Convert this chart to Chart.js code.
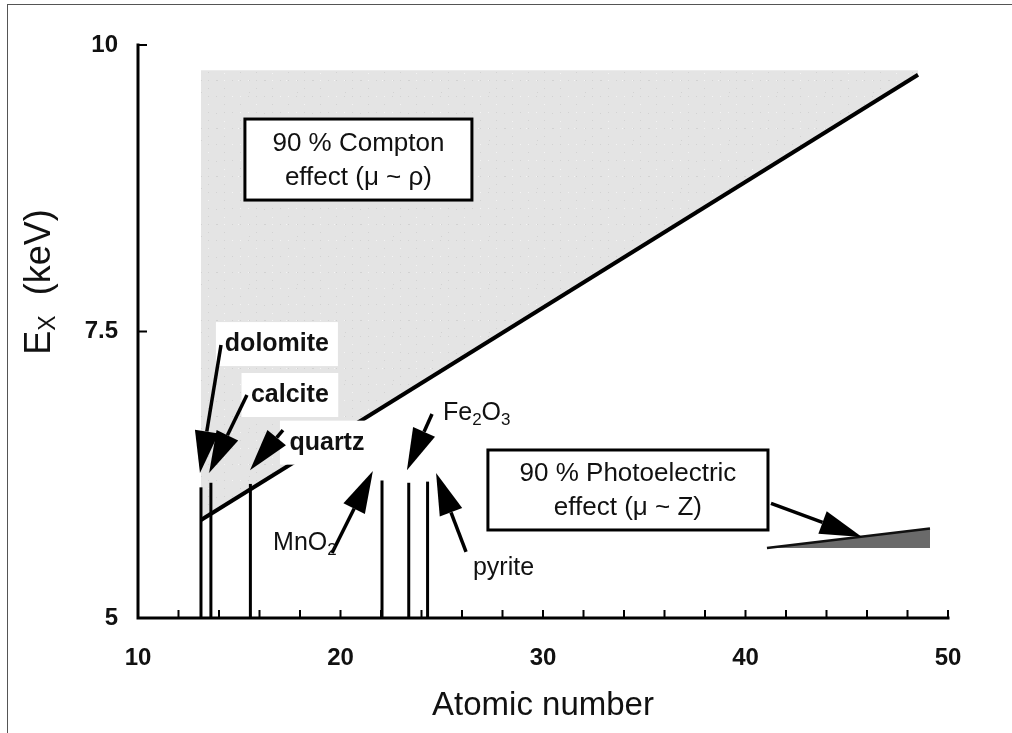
<!DOCTYPE html>
<html>
<head>
<meta charset="utf-8">
<script src="https://cdn.jsdelivr.net/npm/chart.js@4.4.0/dist/chart.umd.min.js"></script>
<style>
  html, body { margin: 0; padding: 0; background: #fff; }
  #wrap { position: relative; width: 1012px; height: 733px; }
  #frame { position: absolute; left: 7px; top: 4px; right: 0; bottom: 0;
           border-top: 1px solid #555; border-left: 1px solid #555; pointer-events: none; }
</style>
</head>
<body>
<div id="wrap">
  <canvas id="chart" width="1012" height="733"></canvas>
  <div id="frame"></div>
</div>
<script>
// axis ranges and ticks
const xMin = 10, xMax = 50;
const yMin = 5, yMax = 10;
const xTickMarks = [12, 14, 16, 18, 20, 22, 24, 26, 28, 30, 32, 34, 36, 38, 40, 42, 44, 46, 48, 50];
const xTickLabels = [10, 20, 30, 40, 50];
const yTickMarks = [7.5, 10];
const yTickLabels = ['5', '7.5', '10'];
const yTickValues = [5, 7.5, 10];

// minerals: effective atomic number and height of the marker line (keV)
const mineralNames = ['dolomite', 'calcite', 'quartz', 'MnO2', 'Fe2O3', 'pyrite'];
const mineralZ = [13.11, 13.6, 15.55, 22.05, 23.37, 24.3];
const mineralTop = [6.14, 6.18, 6.17, 6.2, 6.18, 6.19];

// 90 % Compton boundary line and the shaded region above it
const comptonX = [13.11, 48.52];
const comptonY = [5.855, 9.74];
const comptonTop = 9.78;

// 90 % photoelectric wedge
const photoX = [41.06, 49.11];
const photoY = [5.61, 5.78];
const photoBase = 5.61;

// label positions (data units) and arrows (from -> tip)
const labelAt = [[16.86, 7.39], [17.5, 6.946], [19.33, 6.53], [16.67, 5.654], [25.06, 6.79], [26.54, 5.436]];
const labelBold = [true, true, true, false, false, false];
const labelAlign = ['center', 'center', 'center', 'left', 'left', 'left'];
const arrowFrom = [[14.10, 7.382], [15.38, 6.946], [17.16, 6.64], [19.58, 5.567], [24.52, 6.78], [26.20, 5.576], [41.26, 6.0]];
const arrowTo = [[13.06, 6.265], [13.51, 6.265], [15.53, 6.29], [21.60, 6.283], [23.28, 6.29], [24.72, 6.265], [45.75, 5.707]];

// boxed region captions: [x0, x1, yTop, yBottom]
const boxLines = [['90 % Compton', 'effect (\u03bc ~ \u03c1)'], ['90 % Photoelectric', 'effect (\u03bc ~ Z)']];
const boxRect = [[15.28, 26.49, 9.354, 8.647], [27.28, 41.11, 6.466, 5.768]];

const FONT = "'Liberation Sans', Arial, sans-serif";

// speckled light-grey fill like the printed screen tone
function speckle() {
  const c = document.createElement('canvas');
  c.width = c.height = 48;
  const g = c.getContext('2d');
  g.fillStyle = '#e4e4e4';
  g.fillRect(0, 0, 48, 48);
  let s = 12345;
  for (let i = 0; i < 700; i++) {
    s = (s * 1103515245 + 12345) % 2147483648;
    const x = s % 48;
    s = (s * 1103515245 + 12345) % 2147483648;
    const y = s % 48;
    g.fillStyle = (i % 3 === 0) ? '#f4f4f4' : '#d2d2d2';
    g.fillRect(x, y, 1, 1);
  }
  return g.createPattern(c, 'repeat');
}

// draws text where digits become subscripts (chemical formulas)
function drawFormula(ctx, text, x, y, size, weight, align) {
  const runs = [];
  for (const ch of text) {
    const sub = /[0-9]/.test(ch);
    if (runs.length && runs[runs.length - 1].sub === sub) runs[runs.length - 1].t += ch;
    else runs.push({ t: ch, sub: sub });
  }
  let w = 0;
  runs.forEach(r => {
    ctx.font = `${weight} ${r.sub ? Math.round(size * 0.68) : size}px ${FONT}`;
    r.w = ctx.measureText(r.t).width;
    w += r.w;
  });
  let cx = align === 'center' ? x - w / 2 : x;
  ctx.textAlign = 'left';
  ctx.textBaseline = 'middle';
  runs.forEach(r => {
    ctx.font = `${weight} ${r.sub ? Math.round(size * 0.68) : size}px ${FONT}`;
    ctx.fillText(r.t, cx, r.sub ? y + size * 0.3 : y);
    cx += r.w;
  });
  return w;
}

function drawArrow(ctx, x0, y0, x1, y1) {
  const ang = Math.atan2(y1 - y0, x1 - x0);
  const headLen = 42, headHalf = 12;
  const bx = x1 - headLen * Math.cos(ang), by = y1 - headLen * Math.sin(ang);
  ctx.strokeStyle = '#000';
  ctx.lineWidth = 3.5;
  ctx.beginPath();
  ctx.moveTo(x0, y0);
  ctx.lineTo(bx, by);
  ctx.stroke();
  ctx.fillStyle = '#000';
  ctx.beginPath();
  ctx.moveTo(x1, y1);
  ctx.lineTo(bx + headHalf * Math.sin(ang), by - headHalf * Math.cos(ang));
  ctx.lineTo(bx - headHalf * Math.sin(ang), by + headHalf * Math.cos(ang));
  ctx.closePath();
  ctx.fill();
}

const annotations = {
  id: 'annotations',
  afterDatasetsDraw(chart) {
    const ctx = chart.ctx;
    const px = v => chart.scales.x.getPixelForValue(v);
    const py = v => chart.scales.y.getPixelForValue(v);
    ctx.save();

    // white patches behind the bold labels
    for (let i = 0; i < 3; i++) {
      ctx.font = `bold 24px ${FONT}`;
      const w = ctx.measureText(mineralNames[i]).width;
      const cx = px(labelAt[i][0]), cy = py(labelAt[i][1]);
      ctx.fillStyle = '#fff';
      ctx.fillRect(cx - w / 2 - 11, cy - 22, w + 22, 44);
    }

    // arrows
    for (let i = 0; i < arrowFrom.length; i++) {
      drawArrow(ctx, px(arrowFrom[i][0]), py(arrowFrom[i][1]), px(arrowTo[i][0]), py(arrowTo[i][1]));
    }

    // labels
    ctx.fillStyle = '#111';
    for (let i = 0; i < mineralNames.length; i++) {
      drawFormula(ctx, mineralNames[i], px(labelAt[i][0]), py(labelAt[i][1]), 25,
        labelBold[i] ? 'bold' : 'normal', labelAlign[i]);
    }

    // caption boxes
    for (let i = 0; i < boxRect.length; i++) {
      const [a, b, t, u] = boxRect[i];
      const x0 = px(a), x1 = px(b), y0 = py(t), y1 = py(u);
      ctx.fillStyle = '#fff';
      ctx.fillRect(x0, y0, x1 - x0, y1 - y0);
      ctx.strokeStyle = '#000';
      ctx.lineWidth = 3;
      ctx.strokeRect(x0, y0, x1 - x0, y1 - y0);
      ctx.fillStyle = '#111';
      ctx.font = `26px ${FONT}`;
      ctx.textAlign = 'center';
      ctx.textBaseline = 'middle';
      const h = y1 - y0;
      ctx.fillText(boxLines[i][0], (x0 + x1) / 2, y0 + h * 0.3);
      ctx.fillText(boxLines[i][1], (x0 + x1) / 2, y0 + h * 0.72);
    }
    ctx.restore();
  },
  afterDraw(chart) {
    const ctx = chart.ctx;
    const xs = chart.scales.x, ys = chart.scales.y;
    const left = xs.getPixelForValue(xMin), right = xs.getPixelForValue(xMax);
    const top = ys.getPixelForValue(yMax), bottom = ys.getPixelForValue(yMin);
    ctx.save();
    ctx.strokeStyle = '#000';
    ctx.lineWidth = 3;
    ctx.lineCap = 'square';
    ctx.beginPath();
    ctx.moveTo(left, top);
    ctx.lineTo(left, bottom);
    ctx.lineTo(right, bottom);
    ctx.stroke();

    // inward tick marks
    ctx.lineWidth = 2;
    ctx.lineCap = 'butt';
    ctx.beginPath();
    xTickMarks.forEach(v => {
      const x = xs.getPixelForValue(v);
      ctx.moveTo(x, bottom);
      ctx.lineTo(x, bottom - 8);
    });
    yTickMarks.forEach(v => {
      const y = ys.getPixelForValue(v);
      ctx.moveTo(left, y);
      ctx.lineTo(left + 9, y);
    });
    ctx.stroke();

    // tick labels
    ctx.fillStyle = '#111';
    ctx.font = `bold 24px ${FONT}`;
    ctx.textAlign = 'center';
    ctx.textBaseline = 'middle';
    xTickLabels.forEach(v => ctx.fillText(String(v), xs.getPixelForValue(v), bottom + 40));
    ctx.textAlign = 'right';
    yTickValues.forEach((v, i) => ctx.fillText(yTickLabels[i], left - 20, ys.getPixelForValue(v)));

    // axis titles
    ctx.font = `33px ${FONT}`;
    ctx.textAlign = 'center';
    ctx.fillText('Atomic number', (left + right) / 2, bottom + 88);

    ctx.translate(40, 282);
    ctx.rotate(-Math.PI / 2);
    const parts = [['E', 36, 0], ['X', 23, 9], ['  (keV)', 36, 0]];
    let w = 0;
    parts.forEach(p => { ctx.font = `${p[1]}px ${FONT}`; p.push(ctx.measureText(p[0]).width); w += p[3]; });
    let cx = -w / 2;
    ctx.textAlign = 'left';
    parts.forEach(p => { ctx.font = `${p[1]}px ${FONT}`; ctx.fillText(p[0], cx, p[2]); cx += p[3]; });
    ctx.restore();
  }
};

const pts = (xsArr, ysArr) => xsArr.map((x, i) => ({ x: x, y: ysArr[i] }));

const datasets = [
  {
    label: 'Compton region',
    data: pts(comptonX, [comptonTop, comptonTop]),
    showLine: true, borderWidth: 0, pointRadius: 0,
    backgroundColor: speckle(), fill: '+1', order: 10
  },
  {
    label: '90 % Compton boundary',
    data: pts(comptonX, comptonY),
    showLine: true, borderColor: '#000', borderWidth: 4, pointRadius: 0,
    fill: false, order: 9
  },
  {
    label: '90 % Photoelectric',
    data: pts(photoX, photoY),
    showLine: true, borderColor: '#111', borderWidth: 2.5, pointRadius: 0,
    backgroundColor: '#6a6a6a', fill: { value: photoBase }, order: 8
  }
];
mineralNames.forEach((name, i) => {
  datasets.push({
    label: name,
    data: pts([mineralZ[i], mineralZ[i]], [yMin, mineralTop[i]]),
    showLine: true, borderColor: '#000', borderWidth: 3, pointRadius: 0,
    fill: false, order: 5
  });
});

new Chart(document.getElementById('chart'), {
  type: 'scatter',
  data: { datasets: datasets },
  options: {
    responsive: false,
    animation: false,
    layout: { padding: { left: 138, top: 45, right: 64, bottom: 115 } },
    plugins: { legend: { display: false }, tooltip: { enabled: false } },
    scales: {
      x: { type: 'linear', min: xMin, max: xMax, display: false },
      y: { type: 'linear', min: yMin, max: yMax, display: false }
    }
  },
  plugins: [annotations]
});
</script>
</body>
</html>
